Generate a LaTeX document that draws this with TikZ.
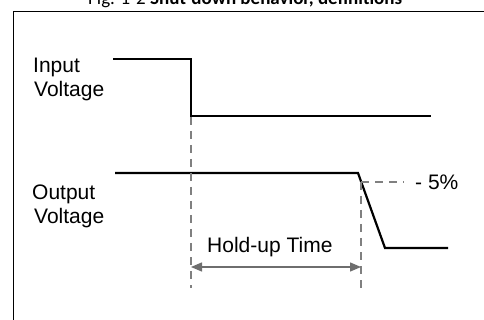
\documentclass[tikz,border=0pt]{standalone}
\usepackage{fontspec}
\setmainfont{Liberation Sans}
\newfontfamily\capfont{Carlito}
\usetikzlibrary{arrows.meta}
\definecolor{dashgrey}{HTML}{808080}
\definecolor{arrgrey}{HTML}{6E6E6E}
\tikzset{
  wave/.style={line width=2.2pt, line join=miter, black},
  guide/.style={dashgrey, line width=1.2pt, dash pattern=on 8pt off 6pt},
  lbl/.style={anchor=base west, inner sep=0pt, font=\fontsize{21}{24}\selectfont},
  frame/.style={line width=1pt, black},
  holdarrow/.style={arrgrey, line width=1.3pt, {Triangle[length=11pt,width=9pt]}-{Triangle[length=11pt,width=9pt]}}
}
\begin{document}
\begin{tikzpicture}[x=1pt,y=-1pt]
\useasboundingbox (0,0) rectangle (484,320);
% cropped caption
\begin{scope}
\clip (0,0) rectangle (484,8);
\node[anchor=base west, inner sep=0pt, font=\capfont\fontsize{19}{21}\selectfont] (cap) at (88,4.5) {Fig. 1-2 \textbf{Shut-down behavior, definitions}};
\end{scope}
% frame
\coordinate (fbl) at (13.5,321);
\coordinate (ftl) at (13.5,11.5);
\coordinate (ftr) at (485,11.5);
\draw[frame] (fbl) -- (ftl) -- (ftr);
% labels
\node[lbl] (in1) at (33,73) {Input};
\node[lbl] (in2) at (34,97) {Voltage};
\node[lbl] (out1) at (32,200) {Output};
\node[lbl] (out2) at (34,224) {Voltage};
% input waveform
\coordinate (i0) at (113,59);
\coordinate (i1) at (191,59);
\coordinate (i2) at (191,116);
\coordinate (i3) at (431,116);
\draw[wave] (i0) -- (i1) -- (i2) -- (i3);
% output waveform
\coordinate (o0) at (115,173);
\coordinate (o1) at (358,173);
\coordinate (o2) at (385,248);
\coordinate (o3) at (448,248);
\draw[wave] (o0) -- (o1) -- (o2) -- (o3);
% guides
\coordinate (g1t) at (191,117);
\coordinate (g1b) at (191,288);
\coordinate (g2t) at (361,182);
\coordinate (g2b) at (361,288);
\coordinate (g5) at (404,182);
\draw[guide] (g1t) -- (g1b);
\draw[guide] (g2t) -- (g2b);
\draw[guide] (g2t) -- (g5);
\node[lbl] (pct) at (415,190) {- 5\%};
% hold-up
\coordinate (a1) at (191,267);
\coordinate (a2) at (361,267);
\draw[holdarrow] (a1) -- (a2);
\node[lbl] (hold) at (207,252) {Hold-up Time};
\end{tikzpicture}
\end{document}
